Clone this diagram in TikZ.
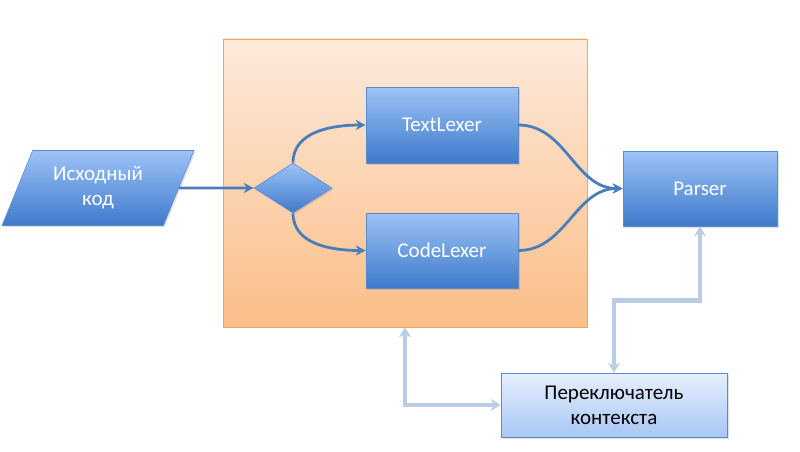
\documentclass[tikz,border=0pt]{standalone}
\usepackage{fontspec}
\setmainfont{Carlito}
\usetikzlibrary{shapes.geometric,arrows.meta,shadows}
\definecolor{bluetop}{HTML}{9DC3F7}
\definecolor{bluebot}{HTML}{3E7ACB}
\definecolor{blueedge}{HTML}{5B8AD0}
\definecolor{orangetop}{HTML}{FDEADB}
\definecolor{orangebot}{HTML}{FBBE88}
\definecolor{orangeedge}{HTML}{F5A35E}
\definecolor{switchtop}{HTML}{E6F0FD}
\definecolor{switchbot}{HTML}{A8C7F4}
\definecolor{flowline}{HTML}{4A7EBB}
\definecolor{ctxline}{HTML}{B9CDE5}

\begin{document}
\begin{tikzpicture}[x=1pt, y=1pt,
  font=\fontsize{21}{25}\selectfont,
  bluebox/.style={draw=blueedge, line width=0.6pt, top color=bluetop, bottom color=bluebot,
    text=white, minimum width=152pt, minimum height=76pt, inner sep=0pt,
    drop shadow={opacity=0.25, shadow xshift=1.5pt, shadow yshift=-1.5pt}},
  flow/.style={flowline, line width=2.8pt, -{Stealth[length=10pt,width=10pt]}},
  ctx/.style={ctxline, line width=4.5pt, {Stealth[length=10pt,width=12pt]}-{Stealth[length=10pt,width=12pt]}}]
\useasboundingbox (0,0) rectangle (800,451);
% lexer area
\node[draw=orangeedge, line width=0.8pt, top color=orangetop, bottom color=orangebot,
  minimum width=364pt, minimum height=288pt, inner sep=0pt] (lexers) at (405,268) {};
% source text
\node[bluebox, trapezium, trapezium stretches=true, trapezium left angle=63.7,
  trapezium right angle=116.3, minimum width=192pt, minimum height=75pt,
  align=center] (src) at (98,263) {Исходный\\код};
% branch
\node[bluebox, diamond, minimum width=78pt, minimum height=50pt] (branch) at (293,263) {};
\node[bluebox] (textlexer) at (442,326) {TextLexer};
\node[bluebox, minimum height=75pt] (codelexer) at (442,200.5) {CodeLexer};
\node[bluebox, minimum width=154pt, minimum height=75pt] (parser) at (700,262.5) {Parser};
% context switch
\node[draw=blueedge, line width=0.6pt, top color=switchtop, bottom color=switchbot,
  minimum width=226pt, minimum height=64pt, inner sep=0pt, align=center,
  drop shadow={opacity=0.25, shadow xshift=1.5pt, shadow yshift=-1.5pt}]
  (switch) at (614,46) {Переключатель\\контекста};
% data flow
\draw[flow] (src.east) -- (branch.west);
\draw[flow] (branch.north) to[out=90, in=180] (textlexer.west);
\draw[flow] (branch.south) to[out=-90, in=180] (codelexer.west);
\draw[flow] (textlexer.east) to[out=0, in=180] (parser.west);
\draw[flow] (codelexer.east) to[out=0, in=180] (parser.west);
% context links
\draw[ctx] (parser.south) -- ++(0,-74) -| (switch.north);
\draw[ctx] (lexers.south) |- (switch.west);
\end{tikzpicture}
\end{document}
